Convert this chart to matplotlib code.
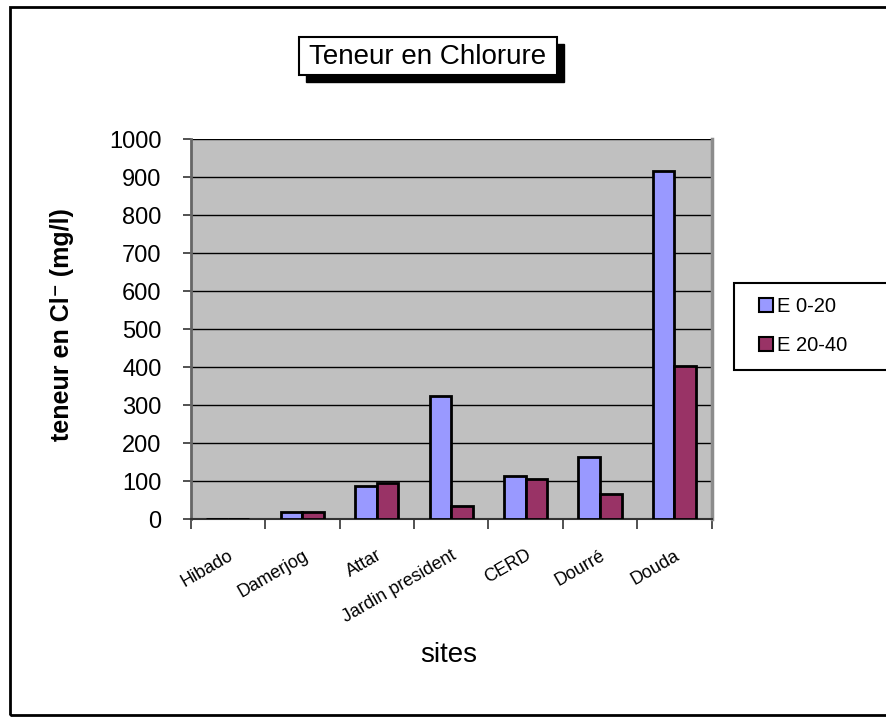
import numpy as np
import matplotlib.pyplot as plt
from matplotlib.patches import Rectangle, Patch

plt.rcParams['font.family'] = ['Liberation Sans', 'DejaVu Sans']

# --- DONNEES ---
sites = ["Hibado", "Damerjog", "Attar", "Jardin president", "CERD", "Dourré", "Douda"]
e_0_20 = [1, 19, 88, 323, 112, 164, 916]
e_20_40 = [1, 19, 95, 35, 106, 67, 402]
y_ticks = [0, 100, 200, 300, 400, 500, 600, 700, 800, 900, 1000]

BLEU = "#9999FF"
BORDEAUX = "#993366"
FOND = "#C0C0C0"

W, H = 886, 718


def px(x, y):
    # pixels (origine en haut a gauche) -> coordonnees figure
    return x / W, 1 - y / H


def main():
    fig = plt.figure(figsize=(W / 100, H / 100), dpi=100)
    fig.patch.set_facecolor("white")

    # cadre exterieur
    fig.patches.append(Rectangle(px(10, 715), (W - 10) / W + 0.01, 708 / H,
                                 transform=fig.transFigure, fill=False,
                                 edgecolor="black", linewidth=2))

    # zone de trace
    x0, y1 = px(190.7, 139.3)
    x1, y0 = px(711.7, 519)
    ax = fig.add_axes([x0, y0, x1 - x0, y1 - y0])
    ax.set_facecolor(FOND)

    x = np.arange(len(sites))
    w = 0.29
    ax.bar(x - w / 2, e_0_20, width=w, color=BLEU, edgecolor="black",
           linewidth=2, zorder=3)
    ax.bar(x + w / 2, e_20_40, width=w, color=BORDEAUX, edgecolor="black",
           linewidth=2, zorder=3)

    ax.set_xlim(-0.5, len(sites) - 0.5)
    ax.set_ylim(0, 1000)
    ax.set_yticks(y_ticks)
    ax.tick_params(axis="y", labelsize=17, length=6, width=1.2,
                   color="#333333", pad=15)
    ax.yaxis.grid(True, color="black", linewidth=1)
    ax.set_axisbelow(True)

    # ticks entre les categories, etiquettes au centre
    ax.set_xticks(np.arange(-0.5, len(sites)), labels=[""] * (len(sites) + 1))
    ax.tick_params(axis="x", which="major", length=7, width=1.2,
                   color="#333333")
    ax.set_xticks(x, labels=sites, minor=True)
    ax.tick_params(axis="x", which="minor", length=0, pad=20, labelsize=13)
    for lab in ax.get_xticklabels(minor=True):
        lab.set_rotation(30)
        lab.set_ha("right")
        lab.set_va("top")
        lab.set_rotation_mode("anchor")

    ax.spines["top"].set_visible(False)
    ax.spines["left"].set_color("#666666")
    ax.spines["left"].set_linewidth(2)
    ax.spines["bottom"].set_color("#333333")
    ax.spines["bottom"].set_linewidth(1.5)
    ax.spines["right"].set_color("#8c8c8c")
    ax.spines["right"].set_linewidth(2.5)

    # titre encadre avec ombre
    sx, sy = px(306, 82)
    fig.patches.append(Rectangle((sx, sy), 258 / W, 38 / H,
                                 transform=fig.transFigure,
                                 facecolor="black", edgecolor="black"))
    tx, ty = px(299, 75)
    fig.patches.append(Rectangle((tx, ty), 258 / W, 38 / H,
                                 transform=fig.transFigure,
                                 facecolor="white", edgecolor="black",
                                 linewidth=1.5))
    fig.text(*px(428, 57), "Teneur en Chlorure", fontsize=20,
             ha="center", va="center")

    # titres des axes
    fig.text(*px(62, 325), "teneur en Cl⁻ (mg/l)", fontsize=18,
             fontweight="bold", rotation=90, ha="center", va="center")
    fig.text(*px(449, 655), "sites", fontsize=20, ha="center", va="center")

    # legende
    lx, ly = px(734, 370)
    fig.patches.append(Rectangle((lx, ly), 160 / W, 87 / H,
                                 transform=fig.transFigure,
                                 facecolor="white", edgecolor="black",
                                 linewidth=1.5))
    handles = [Patch(facecolor=BLEU, edgecolor="black", linewidth=1.5),
               Patch(facecolor=BORDEAUX, edgecolor="black", linewidth=1.5)]
    fig.legend(handles, ["E 0-20", "E 20-40"], loc="center left",
               bbox_to_anchor=px(741, 326), frameon=False, fontsize=14.5,
               handlelength=0.7, handleheight=0.7, handletextpad=0.2,
               labelspacing=1.0)

    fig.savefig("out.png", dpi=100)


if __name__ == "__main__":
    main()
